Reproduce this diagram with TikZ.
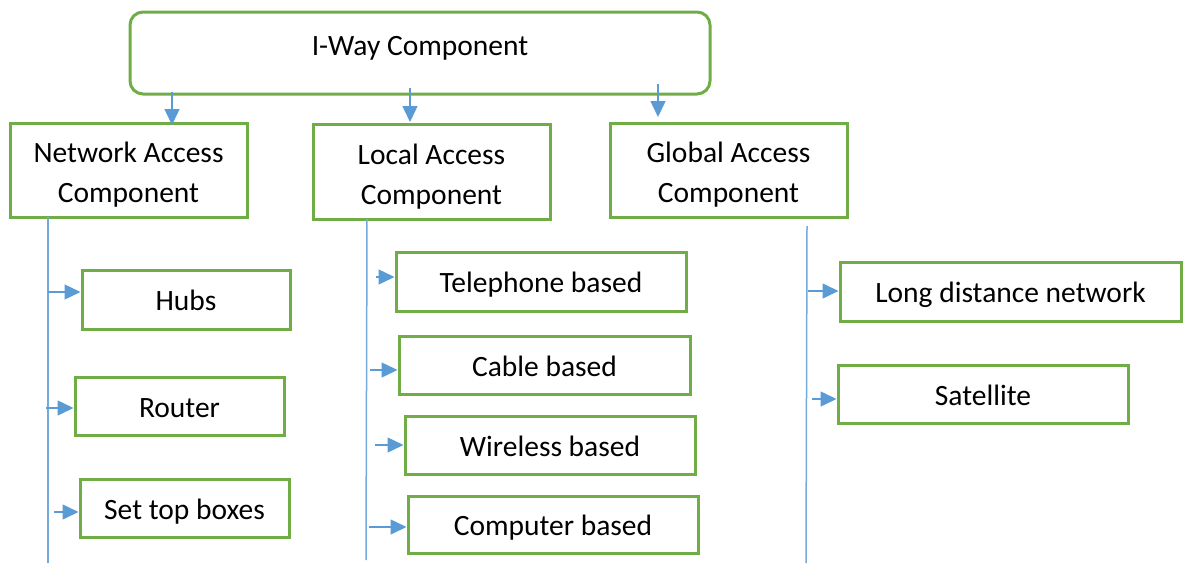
\documentclass[tikz,border=0pt]{standalone}
\usepackage{fontspec}
\setmainfont{Carlito}
\usetikzlibrary{arrows.meta}
\definecolor{boxgreen}{RGB}{112,173,71}
\definecolor{linkblue}{RGB}{91,155,213}
\tikzset{
  compbox/.style={draw=boxgreen, line width=3pt, fill=white, align=center,
    inner sep=0pt, text height=26pt, text depth=3.6pt,
    font=\fontsize{29.5}{40}\selectfont},
  pairbox/.style={compbox, minimum width=237pt, text height=66pt, text depth=0.6pt},
  arr/.style={linkblue, line width=1.5pt, -{Triangle[length=16pt,width=15pt]}},
  trunk/.style={linkblue!85, line width=1.5pt}
}
\begin{document}
\begin{tikzpicture}[x=1pt, y=-1pt]
  \useasboundingbox (0,0) rectangle (1183,565);
  % top box
  \node[compbox, rounded corners=13pt, minimum width=580pt, minimum height=82pt,
    text height=22pt, text depth=16.6pt] (iway) at (420,53) {I-Way Component};
  % second level
  \node[pairbox, minimum height=94pt] (netw) at (128.5,170) {Network Access\\Component};
  \node[pairbox, minimum height=95pt] (locl) at (431.5,171.5) {Local Access\\Component};
  \node[pairbox, minimum height=94pt] (glob) at (728.5,170) {Global Access\\Component};
  % arrows from the top box
  \coordinate (a1) at (172,92);
  \coordinate (a2) at (410,88);
  \coordinate (a3) at (658,84);
  \draw[arr] (a1) -- (a1 |- 0,125);
  \draw[arr] (a2) -- (a2 |- 0,122);
  \draw[arr] (a3) -- (a3 |- 0,117);
  % network access items
  \node[compbox, minimum width=208pt, minimum height=59pt] (hubs) at (186,299.5) {Hubs};
  \node[compbox, minimum width=209pt, minimum height=58pt] (rout) at (179.5,406) {Router};
  \node[compbox, minimum width=209pt, minimum height=58pt] (stb) at (184.5,508) {Set top boxes};
  \coordinate (nt) at (48,217);
  \coordinate (nb) at (48,563);
  \draw[trunk] (nt) -- (nb);
  \coordinate (n1) at (48,292);
  \coordinate (n2) at (46,408);
  \coordinate (n3) at (54,512);
  \draw[arr] (n1) -- (n1 -| hubs.west);
  \draw[arr] (n2) -- (n2 -| rout.west);
  \draw[arr] (n3) -- (n3 -| stb.west);
  % local access items
  \node[compbox, minimum width=290pt, minimum height=59pt] (tel) at (541,281.5) {Telephone based};
  \node[compbox, minimum width=291pt, minimum height=58pt] (cab) at (544.5,365) {Cable based};
  \node[compbox, minimum width=290pt, minimum height=58pt] (wire) at (550,445) {Wireless based};
  \node[compbox, minimum width=290pt, minimum height=57pt] (comp) at (553,524.5) {Computer based};
  \coordinate (lt) at (367,219);
  \coordinate (lb) at (366,560);
  \draw[trunk] (lt) -- (lb);
  \coordinate (l1) at (376,277);
  \coordinate (l2) at (370,370);
  \coordinate (l3) at (375,445);
  \coordinate (l4) at (369,527);
  \draw[arr] (l1) -- (l1 -| tel.west);
  \draw[arr] (l2) -- (l2 -| cab.west);
  \draw[arr] (l3) -- (l3 -| wire.west);
  \draw[arr] (l4) -- (l4 -| comp.west);
  % global access items
  \node[compbox, minimum width=341pt, minimum height=59pt] (longd) at (1010.5,291.5) {Long distance network};
  \node[compbox, minimum width=290pt, minimum height=58pt] (sat) at (983,394) {Satellite};
  \coordinate (gt) at (807,226);
  \coordinate (gb) at (806,563);
  \draw[trunk] (gt) -- (gb);
  \coordinate (g1) at (808,291);
  \coordinate (g2) at (812,399);
  \draw[arr] (g1) -- (g1 -| longd.west);
  \draw[arr] (g2) -- (g2 -| sat.west);
\end{tikzpicture}
\end{document}
